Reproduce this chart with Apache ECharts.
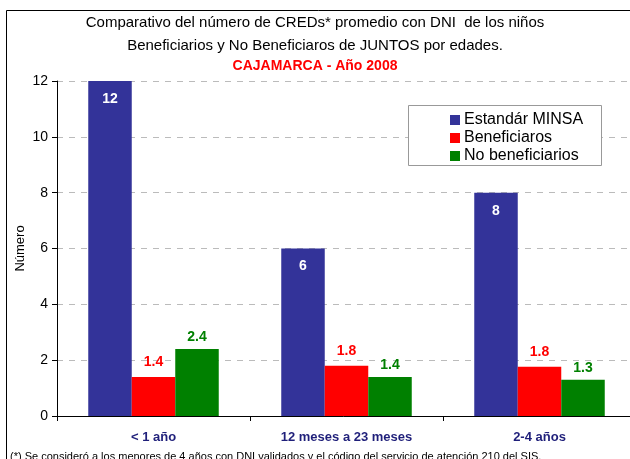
<!DOCTYPE html>
<html><head><meta charset="utf-8">
<script src="https://cdn.jsdelivr.net/npm/echarts@6/dist/echarts.min.js"></script>
<style>html,body{margin:0;padding:0;background:#fff}#c{width:630px;height:459px}</style>
</head><body><div id="c"></div>
<script>
const categories = ['< 1 año', '12 meses a 23 meses', '2-4 años'];
const estandar = [12, 6, 8];
const beneficiarios = [1.4, 1.8, 1.76];
const noBeneficiarios = [2.4, 1.4, 1.3];
const yTicks = [0, 2, 4, 6, 8, 10, 12];

const FF = '"Liberation Sans", Arial, sans-serif';
const fmt = p => p.value.toFixed(1).replace(/\.0$/, '');
const chart = echarts.init(document.getElementById('c'), null, {renderer: 'canvas'});
chart.setOption({
  animation: false,
  textStyle: {fontFamily: FF},
  graphic: [
    {type: 'rect', shape: {x: 6.5, y: 10.5, width: 640, height: 470}, style: {fill: 'none', stroke: '#000', lineWidth: 1}, z: -1},
    {type: 'text', left: 'center', top: 15, style: {text: 'Comparativo del número de CREDs* promedio con DNI  de los niños', font: '15px ' + FF, fill: '#000'}},
    {type: 'text', left: 'center', top: 38, style: {text: 'Beneficiarios y No Beneficiaros de JUNTOS por edades.', font: '15px ' + FF, fill: '#000'}},
    {type: 'text', left: 'center', top: 59, style: {text: 'CAJAMARCA - Año 2008', font: 'bold 14px ' + FF, fill: '#FF0000'}},
    {type: 'text', left: 10, top: 451, style: {text: '(*) Se consideró a los menores de 4 años con DNI validados y el código del servicio de atención 210 del SIS.', font: '11px ' + FF, fill: '#000'}},
    {type: 'rect', shape: {x: 408.5, y: 105.5, width: 193, height: 60}, style: {fill: '#fff', stroke: '#999', lineWidth: 1}, z: 5}
  ],
  legend: {
    left: 445, top: 107, orient: 'vertical', itemGap: 2, itemWidth: 10, itemHeight: 10,
    icon: 'rect', z: 10,
    textStyle: {fontSize: 16, color: '#000', fontFamily: FF, padding: [0, 0, 0, -1]},
    data: ['Estandár MINSA', 'Beneficiaros', 'No beneficiarios']
  },
  grid: {left: 57, width: 579, top: 81, height: 335, containLabel: false, outerBoundsMode: 'none'},
  xAxis: {
    type: 'category', data: categories,
    axisLine: {lineStyle: {color: '#000', width: 1}},
    axisTick: {show: true, alignWithLabel: false, length: 5, lineStyle: {color: '#000'}},
    axisLabel: {color: '#1F1F7A', fontWeight: 'bold', fontSize: 13, margin: 15, fontFamily: FF}
  },
  yAxis: {
    type: 'value', min: 0, max: 12, interval: 2,
    name: 'Número', nameLocation: 'middle', nameGap: 30, nameRotate: 90, nameMoveOverlap: false,
    nameTextStyle: {fontSize: 13, color: '#000', fontFamily: FF},
    axisLine: {show: true, lineStyle: {color: '#000'}},
    axisTick: {show: true, length: 5, lineStyle: {color: '#000'}},
    axisLabel: {fontSize: 14, color: '#000', margin: 9, fontFamily: FF,
      formatter: v => yTicks.includes(v) ? String(v) : ''},
    splitLine: {show: true, lineStyle: {color: '#bbb', type: [6, 6]}}
  },
  series: [
    {name: 'Estandár MINSA', type: 'bar', data: estandar, barWidth: 43.5, barGap: '0%', barCategoryGap: '32%',
      itemStyle: {color: '#333399'},
      label: {show: true, position: 'insideTop', distance: 11, color: '#fff', fontWeight: 'bold', fontSize: 14, fontFamily: FF, formatter: fmt}},
    {name: 'Beneficiaros', type: 'bar', data: beneficiarios, barWidth: 43.5, barGap: '0%',
      itemStyle: {color: '#FF0000'},
      label: {show: true, position: 'top', distance: 8, color: '#FF0000', fontWeight: 'bold', fontSize: 14, fontFamily: FF, formatter: fmt}},
    {name: 'No beneficiarios', type: 'bar', data: noBeneficiarios, barWidth: 43.5, barGap: '0%',
      itemStyle: {color: '#008000'},
      label: {show: true, position: 'top', distance: 5, color: '#008000', fontWeight: 'bold', fontSize: 14, fontFamily: FF, formatter: fmt}}
  ]
});
</script></body></html>
